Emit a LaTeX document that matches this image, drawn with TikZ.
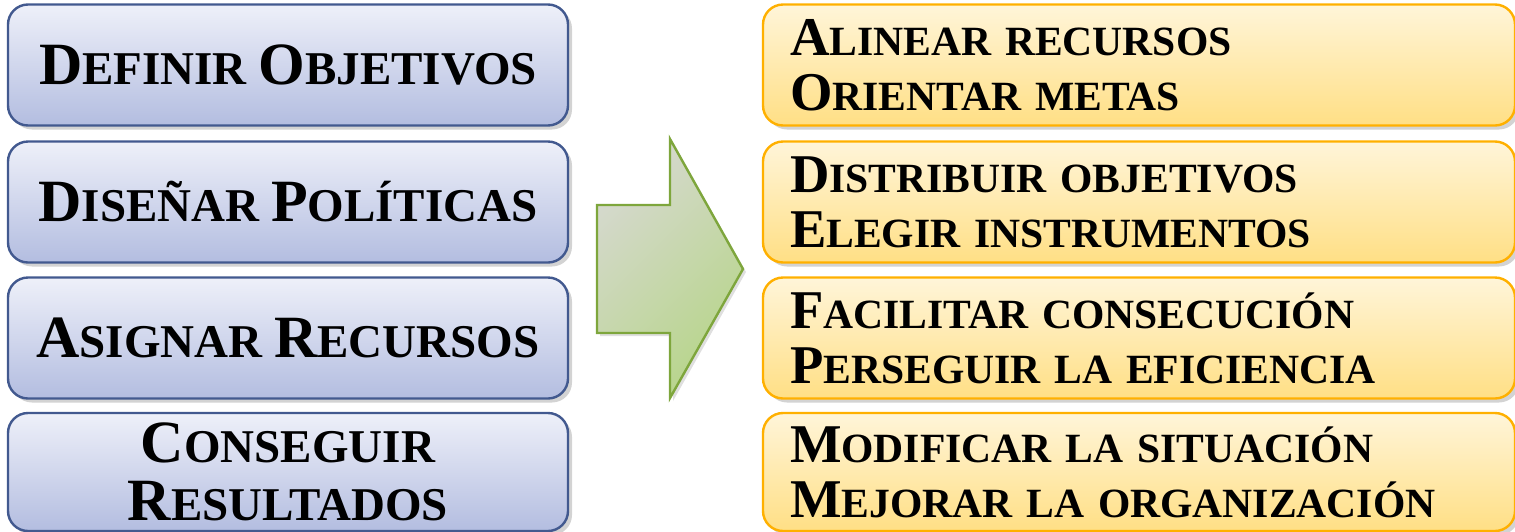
\documentclass[tikz,border=0pt]{standalone}
\usepackage{fontspec}
\setmainfont{Liberation Serif}
\usetikzlibrary{shadows}

% colours of the boxes and the arrow
\definecolor{leftTop}{HTML}{EEF0F9}
\definecolor{leftBot}{HTML}{B3BDE0}
\definecolor{leftLine}{HTML}{42598F}
\definecolor{rightTop}{HTML}{FFF5D9}
\definecolor{rightBot}{HTML}{FFDF85}
\definecolor{rightLine}{HTML}{FFB000}
\definecolor{arrowA}{HTML}{D6D9CF}
\definecolor{arrowB}{HTML}{B7D58A}
\definecolor{arrowLine}{HTML}{7EA63C}

% fake small caps: big first letter, small capitals after
\newcommand{\capword}[2]{{\fontsize{30}{32}\selectfont #1}\MakeUppercase{#2}}
\newcommand{\capline}[2]{{\fontsize{27.3}{30}\selectfont #1}\MakeUppercase{#2}}

\tikzset{
  stepleft/.style={draw=leftLine, line width=1.2pt, rounded corners=10pt,
    top color=leftTop, bottom color=leftBot,
    drop shadow={shadow xshift=2pt, shadow yshift=-2pt, opacity=0.35},
    minimum width=280pt, minimum height=60.5pt, align=center, inner ysep=2pt,
    font=\bfseries\fontsize{23.5}{29}\selectfont},
  stepright/.style={draw=rightLine, line width=1.2pt, rounded corners=10pt,
    top color=rightTop, bottom color=rightBot,
    drop shadow={shadow xshift=2pt, shadow yshift=-2pt, opacity=0.35},
    minimum width=376pt, minimum height=60.5pt, inner xsep=13.5pt, inner ysep=2pt,
    text width=349pt, align=left,
    font=\bfseries\fontsize{20.8}{27.5}\selectfont},
}

\begin{document}
\begin{tikzpicture}[x=0.5pt, y=-0.5pt]
\useasboundingbox (0,0) rectangle (1515,531);

% Left column
\node[stepleft] (defin) at (288,65) {\capword{D}{efinir} \capword{O}{bjetivos}};
\node[stepleft] (disen) at (288,202) {\capword{D}{iseñar} \capword{P}{olíticas}};
\node[stepleft] (asign) at (288,338) {\capword{A}{signar} \capword{R}{ecursos}};
\node[stepleft, minimum height=59pt] (consg) at (288,472)
  {\capword{C}{onseguir}\\\capword{R}{esultados}};

% Arrow in the middle
\draw[arrowLine, line width=1.2pt, top color=arrowA, bottom color=arrowB,
  shading angle=45,
  drop shadow={shadow xshift=1.5pt, shadow yshift=-1.5pt, opacity=0.25}]
  (597,205) -- (670,205) -- (670,139) -- (743,269) -- (670,398)
  -- (670,333) -- (597,333) -- cycle;

% Right column
\node[stepright] (align) at (1139,65)
  {\capline{A}{linear recursos}\\\capline{O}{rientar metas}};
\node[stepright] (distr) at (1139,202)
  {\capline{D}{istribuir objetivos}\\\capline{E}{legir instrumentos}};
\node[stepright] (facil) at (1139,338)
  {\capline{F}{acilitar consecución}\\\capline{P}{erseguir la eficiencia}};
\node[stepright, minimum height=59pt] (modif) at (1139,472)
  {\capline{M}{odificar la situación}\\\capline{M}{ejorar la organización}};

\end{tikzpicture}
\end{document}
